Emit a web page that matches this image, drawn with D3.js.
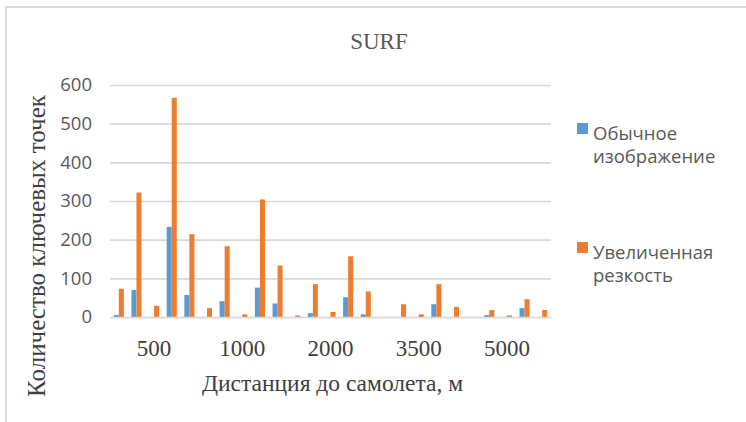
<!DOCTYPE html>
<html>
<head>
<meta charset="utf-8">
<script src="https://cdn.jsdelivr.net/npm/d3@7"></script>
<style>
  html, body { margin: 0; padding: 0; background: #fff; }
  svg { display: block; }
</style>
</head>
<body>
<svg id="chart" width="746" height="422"></svg>
<script>
// Distances (m) and the five shots measured at each distance
const distances = ["500", "1000", "2000", "3500", "5000"];
const shots = ["1", "2", "3", "4", "5"];
const seriesNames = ["Обычное изображение", "Увеличенная резкость"];

// Key-point counts, five shots per distance, in distance order
const normalImage = [5, 70, 0, 233, 57,  0, 41, 0, 76, 35,  0, 10, 0, 51, 7,  0, 0, 0, 33, 0,  0, 5, 0, 23, 0];
const sharpened   = [73, 322, 29, 567, 214,  23, 183, 7, 304, 133,  4, 85, 13, 157, 66,  0, 33, 7, 85, 26,  0, 18, 4, 46, 18];

const yTicks = [0, 100, 200, 300, 400, 500, 600];
const colors = ["#5B9BD5", "#ED7D31"];

const svg = d3.select("#chart");

// Chart frame
svg.append("rect")
  .attr("x", 6).attr("y", 7)
  .attr("width", 760).attr("height", 430)
  .attr("fill", "none").attr("stroke", "#d9d9d9").attr("stroke-width", 2);

const plot = { left: 110, right: 551, top: 85, bottom: 317 };

const x0 = d3.scaleBand().domain(distances).range([plot.left, plot.right]);
const x1 = d3.scaleBand().domain(shots).range([0, x0.bandwidth()]);
const x2 = d3.scaleBand().domain([0, 1]).range([0, x1.bandwidth()])
  .paddingInner(0).paddingOuter(0.75);
const y = d3.scaleLinear().domain([0, 600]).range([plot.bottom, plot.top]);

// Gridlines and value labels
const yAxis = d3.axisLeft(y).tickValues(yTicks)
  .tickSize(-(plot.right - plot.left)).tickPadding(18);
const gy = svg.append("g").attr("transform", `translate(${plot.left},0)`).call(yAxis);
gy.select(".domain").remove();
gy.selectAll(".tick line").attr("stroke", "#d9d9d9").attr("stroke-width", 1.6);
gy.selectAll(".tick text")
  .attr("fill", "#595959")
  .style("font-family", "'Open Sans', sans-serif")
  .style("font-size", "18.5px");

// Bars
const rows = [];
distances.forEach((d, i) => {
  shots.forEach((s, j) => {
    const k = i * shots.length + j;
    rows.push({ d, s, si: 0, v: normalImage[k] });
    rows.push({ d, s, si: 1, v: sharpened[k] });
  });
});

svg.append("g").selectAll("rect")
  .data(rows.filter(r => r.v > 0))
  .join("rect")
  .attr("x", r => x0(r.d) + x1(r.s) + x2(r.si))
  .attr("width", x2.bandwidth())
  .attr("y", r => y(r.v))
  .attr("height", r => y(0) - y(r.v))
  .attr("fill", r => colors[r.si]);

// Category axis
const xAxis = d3.axisBottom(x0).tickSize(0).tickPadding(23);
const gx = svg.append("g").attr("transform", `translate(0,${plot.bottom})`).call(xAxis);
gx.select(".domain").attr("stroke", "#d9d9d9").attr("stroke-width", 1.6);
gx.selectAll(".tick text")
  .attr("fill", "#404040")
  .style("font-family", "'Liberation Serif', serif")
  .style("font-size", "23px");

// Title
svg.append("text")
  .attr("x", 379).attr("y", 49)
  .attr("text-anchor", "middle")
  .attr("fill", "#595959")
  .style("font-family", "'Liberation Serif', serif")
  .style("font-size", "23px")
  .text("SURF");

// Axis titles
svg.append("text")
  .attr("x", (plot.left + plot.right) / 2 + 2).attr("y", 391)
  .attr("text-anchor", "middle")
  .attr("fill", "#404040")
  .style("font-family", "'Liberation Serif', serif")
  .style("font-size", "23.5px")
  .text("Дистанция до самолета, м");

svg.append("text")
  .attr("transform", "translate(45,246) rotate(-90)")
  .attr("text-anchor", "middle")
  .attr("fill", "#404040")
  .style("font-family", "'Liberation Serif', serif")
  .style("font-size", "25px")
  .text("Количество ключевых точек");

// Legend: swatch plus a two-line label per series
const legendLines = [["Обычное", "изображение"], ["Увеличенная", "резкость"]];
const legendTop = [123, 242];
const legend = svg.append("g");
legendLines.forEach((lines, i) => {
  legend.append("rect")
    .attr("x", 577).attr("y", legendTop[i])
    .attr("width", 11).attr("height", 11)
    .attr("fill", colors[i]);
  lines.forEach((ln, j) => {
    legend.append("text")
      .attr("x", 593).attr("y", legendTop[i] + 17 + j * 23)
      .attr("fill", "#595959")
      .style("font-family", "'Open Sans', sans-serif")
      .style("font-size", "18.5px")
      .text(ln);
  });
});
</script>
</body>
</html>
